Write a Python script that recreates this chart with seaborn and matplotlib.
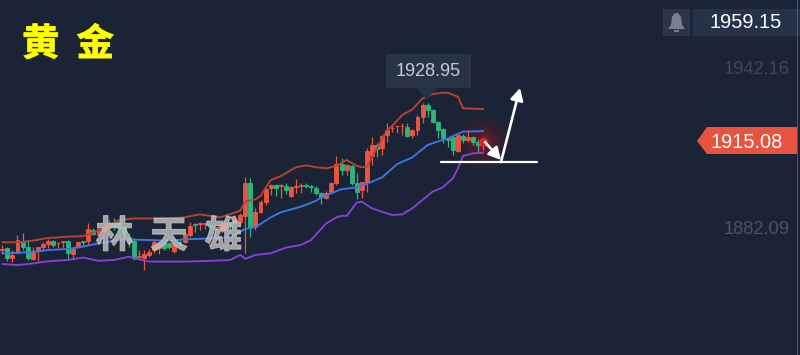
import pandas as pd
import matplotlib
matplotlib.use("Agg")
import matplotlib.pyplot as plt
import matplotlib.patheffects as pe
from matplotlib.patches import Polygon, Rectangle
import seaborn as sns

# --- Candles ---
opens = [1874.8, 1875.2, 1871.5, 1873.6, 1878.1, 1875.6, 1871.4, 1874.1, 1875.6, 1876.7,
         1878.0, 1877.1, 1877.5, 1878.0, 1873.1, 1875.6, 1878.0, 1878.1, 1882.1, 1880.2,
         1881.8, 1882.7, 1885.2, 1885.2, 1883.3, 1879.6, 1878.0, 1872.1, 1871.6, 1872.8,
         1874.6, 1875.2, 1877.7, 1877.1, 1874.4, 1877.7, 1877.7, 1880.2, 1884.2, 1884.2,
         1884.3, 1883.9, 1883.3, 1882.1, 1882.3, 1884.6, 1885.2, 1885.2, 1887.3, 1899.5,
         1883.1, 1888.9, 1892.7, 1897.6, 1898.9, 1898.6, 1898.6, 1894.9, 1898.3, 1898.5,
         1898.9, 1898.5, 1897.6, 1895.8, 1893.9, 1896.4, 1899.8, 1906.6, 1904.5, 1906.0,
         1899.5, 1897.0, 1899.9, 1909.7, 1913.8, 1912.6, 1917.5, 1920.0, 1920.8, 1920.8,
         1920.6, 1917.5, 1919.4, 1924.4, 1928.7, 1926.9, 1922.5, 1919.7, 1916.3, 1916.9,
         1911.7, 1917.3, 1915.7, 1916.7, 1915.1, 1913.8]
closes = [1875.0, 1871.8, 1872.8, 1878.4, 1875.6, 1871.6, 1874.4, 1875.6, 1876.7, 1878.1,
          1876.5, 1877.4, 1878.0, 1873.4, 1874.9, 1877.7, 1877.7, 1882.3, 1880.5, 1882.3,
          1883.3, 1884.6, 1883.1, 1882.7, 1880.8, 1877.7, 1871.8, 1872.4, 1873.1, 1874.0,
          1877.7, 1877.1, 1875.2, 1875.6, 1876.9, 1876.5, 1880.6, 1883.7, 1883.9, 1884.6,
          1884.6, 1883.3, 1882.5, 1883.9, 1884.6, 1884.3, 1885.8, 1887.7, 1899.5, 1883.1,
          1888.9, 1892.7, 1897.4, 1898.9, 1897.6, 1898.9, 1897.0, 1898.3, 1898.5, 1898.9,
          1898.5, 1898.3, 1895.8, 1894.3, 1895.8, 1899.8, 1906.7, 1904.5, 1906.3, 1899.8,
          1896.4, 1899.9, 1911.7, 1913.8, 1912.2, 1917.3, 1919.4, 1920.3, 1921.0, 1921.0,
          1917.3, 1919.4, 1924.4, 1928.7, 1926.9, 1922.5, 1919.4, 1916.3, 1915.7, 1911.9,
          1917.5, 1915.7, 1916.9, 1915.1, 1913.8, 1915.9]
highs = [1876.5, 1875.9, 1874.6, 1880.2, 1880.8, 1878.4, 1875.9, 1875.6, 1877.7, 1878.6,
         1878.4, 1877.7, 1878.0, 1878.4, 1875.9, 1878.1, 1878.1, 1884.8, 1882.7, 1883.6,
         1884.6, 1885.8, 1886.4, 1885.8, 1883.9, 1880.8, 1879.0, 1874.6, 1874.6, 1874.9,
         1878.4, 1878.0, 1878.4, 1877.7, 1877.7, 1878.4, 1881.5, 1884.9, 1884.6, 1884.9,
         1884.9, 1884.3, 1883.9, 1884.6, 1884.9, 1884.8, 1887.1, 1888.3, 1901.7, 1901.4,
         1890.2, 1893.3, 1897.6, 1899.3, 1899.3, 1899.3, 1899.5, 1898.5, 1901.0, 1899.5,
         1899.8, 1898.9, 1898.5, 1896.4, 1896.8, 1900.1, 1909.7, 1908.8, 1906.7, 1906.3,
         1903.2, 1900.1, 1912.6, 1916.7, 1914.4, 1917.5, 1921.9, 1921.3, 1921.3, 1921.9,
         1921.9, 1919.8, 1925.0, 1929.4, 1929.4, 1927.1, 1922.9, 1920.0, 1916.7, 1917.5,
         1917.8, 1917.9, 1919.4, 1917.2, 1915.7, 1916.3]
lows = [1873.4, 1870.5, 1870.0, 1873.4, 1874.6, 1870.9, 1870.9, 1870.6, 1874.6, 1875.2,
        1875.6, 1875.2, 1875.2, 1871.3, 1871.3, 1875.2, 1876.1, 1876.5, 1880.2, 1880.2,
        1881.1, 1882.1, 1882.1, 1882.1, 1878.4, 1875.9, 1870.9, 1871.1, 1867.2, 1871.9,
        1873.4, 1873.0, 1874.6, 1874.9, 1873.6, 1875.6, 1877.1, 1879.6, 1881.5, 1882.1,
        1882.5, 1880.8, 1879.0, 1881.5, 1881.8, 1881.5, 1884.6, 1884.6, 1873.6, 1879.6,
        1882.1, 1888.3, 1891.4, 1895.2, 1894.9, 1893.9, 1895.5, 1894.5, 1895.8, 1895.8,
        1897.6, 1896.4, 1895.2, 1891.8, 1893.5, 1896.0, 1898.9, 1902.6, 1902.6, 1898.9,
        1893.5, 1893.9, 1896.4, 1906.3, 1909.5, 1910.1, 1915.1, 1918.8, 1918.2, 1917.5,
        1916.7, 1916.3, 1917.5, 1921.9, 1924.4, 1921.9, 1916.3, 1914.4, 1913.2, 1910.1,
        1911.3, 1914.4, 1915.1, 1913.8, 1911.3, 1911.9]

# --- Bands, (candle number, price) ---
upper_k = [0, 3, 6, 9, 13, 16, 19, 21, 23, 26, 33, 36, 39, 43, 46, 47, 48, 50, 51, 53, 55, 58, 60, 62, 64,
           66, 68, 70, 71, 72, 74, 76, 77, 79, 81, 83, 85, 87, 88, 90, 91, 95]
upper_p = [1877.5, 1877.5, 1878.1, 1879.1, 1879.6, 1879.8, 1881.8, 1883.9, 1885.8, 1886.4, 1886.4,
           1886.8, 1887.9, 1886.8, 1888.6, 1889.3, 1892.7, 1893.5, 1894.8, 1900.7, 1902.2, 1905.5,
           1906.2, 1905.5, 1905.1, 1906.0, 1908.2, 1906.0, 1905.5, 1905.7, 1912.6, 1919.4, 1920.9,
           1925.0, 1927.1, 1931.2, 1932.8, 1933.3, 1933.3, 1931.8, 1927.5, 1927.2]
middle_k = [0, 3, 6, 9, 13, 16, 19, 23, 26, 33, 36, 42, 45, 48, 50, 53, 55, 59, 62, 63, 67, 70, 72, 75,
            78, 81, 84, 86, 88, 91, 95]
middle_p = [1873.4, 1873.6, 1873.9, 1874.6, 1875.0, 1875.9, 1877.1, 1878.4, 1878.5, 1878.1, 1878.6,
            1879.0, 1879.4, 1882.5, 1883.1, 1886.8, 1888.7, 1890.8, 1893.0, 1894.3, 1897.3, 1898.0,
            1899.3, 1901.7, 1906.7, 1909.2, 1913.8, 1915.1, 1916.3, 1918.8, 1919.0]
lower_k = [0, 3, 6, 9, 13, 16, 19, 22, 25, 27, 29, 33, 36, 40, 45, 47, 48, 50, 53, 56, 59, 61, 64, 66,
           67, 68, 70, 71, 73, 75, 77, 79, 81, 83, 85, 87, 89, 90, 91, 93, 95]
lower_p = [1869.4, 1869.0, 1869.6, 1870.4, 1870.9, 1871.8, 1870.6, 1870.9, 1872.1, 1871.1, 1870.3,
           1870.3, 1870.3, 1870.5, 1870.9, 1872.8, 1871.3, 1872.8, 1873.4, 1875.5, 1876.5, 1878.4,
           1884.6, 1886.8, 1887.4, 1887.3, 1892.3, 1892.7, 1890.2, 1888.9, 1887.7, 1887.9, 1890.2,
           1893.3, 1896.4, 1898.0, 1901.4, 1905.1, 1909.7, 1910.7, 1910.95]

axis_prices = [1942.16, 1882.09]
last_price = 1915.08
high_price = 1928.95
alert_price = 1959.15

bg_color = "#1b2336"
red = "#ee5440"
green = "#2db57c"

sns.set_theme(style="dark", rc={"axes.facecolor": bg_color, "figure.facecolor": bg_color})
plt.rcParams["font.family"] = ["Liberation Sans", "DejaVu Sans"]
cjk = ["Noto Sans CJK SC", "DejaVu Sans"]

fig, ax = plt.subplots(figsize=(8, 3.55), dpi=100)
fig.subplots_adjust(0, 0, 1, 1)
ax.axis("off")


def px(x, y):
    # picture pixels to axes fraction, for everything that is not data
    return x / 800, 1 - y / 355


df = pd.DataFrame({"k": range(len(opens)), "open": opens, "close": closes, "high": highs, "low": lows})
df["color"] = [red if c >= o else green for o, c in zip(df["open"], df["close"])]

# --- Glow behind the last candle ---
last_k = len(opens) - 1
for size, alpha in zip([1700, 1300, 950, 650, 400, 220, 110], [0.03, 0.04, 0.05, 0.07, 0.1, 0.14, 0.2]):
    ax.scatter([last_k], [closes[-1] - 1], s=size, color="#c01818", alpha=alpha, linewidths=0, zorder=1)

# --- Candles ---
ax.vlines(df["k"], df["low"], df["high"], colors=df["color"], linewidth=0.9, zorder=2)
ax.bar(df["k"], (df["close"] - df["open"]).abs(), bottom=df[["open", "close"]].min(axis=1),
       width=0.78, color=df["color"], edgecolor=df["color"], linewidth=0.6, zorder=3)
ax.scatter([last_k], [closes[-1] - 0.9], s=45, color="#e0202a", linewidths=0, zorder=4)

# --- Bands ---
for band_k, band_p, color in [(upper_k, upper_p, "#b8442f"), (middle_k, middle_p, "#3b78e6"),
                              (lower_k, lower_p, "#8a3fdc")]:
    sns.lineplot(x=band_k, y=band_p, ax=ax, color=color, linewidth=1.35, estimator=None, sort=False, zorder=5)
ax.set_xlim(-0.454, 157.55)
ax.set_ylim(1835.45, 1967.9)

# --- Hand drawn arrows and support line ---
ax.plot(*zip(px(441, 162), px(537, 162)), transform=ax.transAxes, color="white", linewidth=1.6, zorder=7)
for start, end in [(px(485, 142), px(501, 160)), (px(501, 162), px(520, 88))]:
    ax.annotate("", xy=end, xytext=start, xycoords="axes fraction", textcoords="axes fraction", zorder=7,
                arrowprops=dict(arrowstyle="-|>,head_length=0.6,head_width=0.32", color="white", lw=1.9,
                                shrinkA=0, shrinkB=0))

# --- Price labels ---
for price, y, color in zip(axis_prices, [69, 230], ["#3f4758", "#4a5263"]):
    ax.text(*px(757, y), f"{price:.2f}", transform=ax.transAxes, color=color,
            fontsize=13.2, ha="center", va="center")

ax.add_patch(Polygon([px(697, 141), px(707, 127), px(797, 127), px(797, 154), px(707, 154)],
                     closed=True, transform=ax.transAxes, color="#e8533f", linewidth=0, zorder=6))
ax.text(*px(747, 142), f"{last_price:.2f}", transform=ax.transAxes, color="white", fontsize=14.4,
        ha="center", va="center", zorder=7)

# tooltip over the high
ax.add_patch(Polygon([px(386, 54), px(471, 54), px(471, 88), px(437, 88), px(427, 100), px(417, 88), px(386, 88)],
                     closed=True, transform=ax.transAxes, color="#283347", linewidth=0, zorder=6))
ax.text(*px(428, 72), f"{high_price:.2f}", transform=ax.transAxes, color="#c5cad3", fontsize=13,
        ha="center", va="center", zorder=7)

# alert box and bell
ax.add_patch(Rectangle(px(693, 36), 107 / 800, 27 / 355, transform=ax.transAxes, color="#25324a", linewidth=0))
ax.text(*px(746, 23), f"{alert_price:.2f}", transform=ax.transAxes, color="white", fontsize=14.4,
        ha="center", va="center")
ax.add_patch(Rectangle(px(663, 36), 27 / 800, 27 / 355, transform=ax.transAxes, color="#2d3648", linewidth=0))
ax.add_patch(Polygon([px(668, 29), px(671, 25), px(672, 17), px(675, 13), px(678, 13), px(681, 17), px(682, 25),
                      px(685, 29)], closed=True, transform=ax.transAxes, color="#7a8090", linewidth=0))
ax.add_patch(Rectangle(px(674, 32), 5 / 800, 2 / 355, transform=ax.transAxes, color="#7a8090", linewidth=0))

# right edge
ax.add_patch(Rectangle(px(797, 355), 1 / 800, 1, transform=ax.transAxes, color="#7a4a35", linewidth=0))

# --- Title and watermark ---
title = ax.text(*px(68, 44), "黄  金", transform=ax.transAxes, color="#ffff00", fontsize=27, fontweight="bold",
                family=cjk, ha="center", va="center", zorder=8)
title.set_path_effects([pe.Stroke(linewidth=0.6, foreground="#ffff00")])
mark = ax.text(*px(169, 236), "林  天  雄", transform=ax.transAxes, color="#c4c4c4", alpha=0.8, fontsize=27,
               fontweight="bold", family=cjk, ha="center", va="center", zorder=8)
mark.set_path_effects([pe.Stroke(linewidth=0.8, foreground="#c4c4c4")])

fig.savefig("out.png", dpi=100, facecolor=bg_color)
